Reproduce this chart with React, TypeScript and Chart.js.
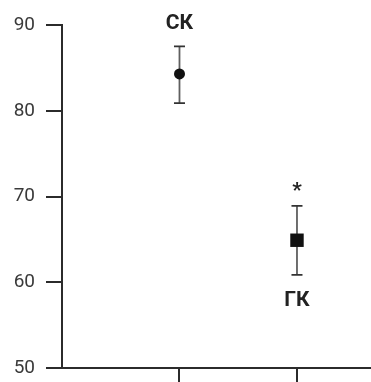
import React, { useEffect, useRef } from "react";
import { Chart, registerables } from "chart.js";

Chart.register(...registerables);

const groups = ["СК", "ГК"];
const xPositions = [1, 2];
const means = [84.3, 64.9];
const errLow = [80.9, 60.85];
const errHigh = [87.5, 68.9];
const topLabels = ["СК", "*"];
const bottomLabels = ["", "ГК"];
const yTicks = [50, 60, 70, 80, 90];

const errorBarPlugin = {
  id: "errorBars",
  beforeDatasetsDraw(chart: any) {
    const { ctx, scales } = chart;
    const xs = scales.x, ys = scales.y;
    ctx.save();
    for (let i = 0; i < means.length; i++) {
      const x = xs.getPixelForValue(xPositions[i]);
      const yl = ys.getPixelForValue(errLow[i]);
      const yh = ys.getPixelForValue(errHigh[i]);
      ctx.strokeStyle = "#5f5f5f";
      ctx.lineWidth = 1.8;
      ctx.beginPath();
      ctx.moveTo(x, yl);
      ctx.lineTo(x, yh);
      ctx.stroke();
      ctx.strokeStyle = "#333";
      ctx.lineWidth = 1.8;
      ctx.beginPath();
      ctx.moveTo(x - 5.5, yl);
      ctx.lineTo(x + 5.5, yl);
      ctx.moveTo(x - 5.5, yh);
      ctx.lineTo(x + 5.5, yh);
      ctx.stroke();
    }
    ctx.restore();
  },
  afterDatasetsDraw(chart: any) {
    const { ctx, scales } = chart;
    const xs = scales.x, ys = scales.y;
    ctx.save();
    ctx.fillStyle = "#222";
    ctx.textAlign = "center";
    ctx.textBaseline = "middle";
    ctx.font = "bold 21px Roboto";
    for (let i = 0; i < means.length; i++) {
      const x = xs.getPixelForValue(xPositions[i]);
      const yl = ys.getPixelForValue(errLow[i]);
      const yh = ys.getPixelForValue(errHigh[i]);
      if (topLabels[i]) {
        if (topLabels[i] === "*") {
          ctx.fillText(topLabels[i], x, yh - 14);
        } else {
          ctx.fillText(topLabels[i], x, yh - 23);
        }
      }
      if (bottomLabels[i]) {
        ctx.fillText(bottomLabels[i], x, yl + 26);
      }
    }
    ctx.restore();
  },
};

export default function App() {
  const ref = useRef<HTMLCanvasElement>(null);
  useEffect(() => {
    document.body.style.margin = "0";
    const chart = new Chart(ref.current!, {
      type: "scatter",
      data: {
        datasets: [
          {
            label: groups[0],
            data: [{ x: xPositions[0], y: means[0] }],
            pointStyle: "circle",
            pointRadius: 5.5,
            backgroundColor: "#111",
            borderColor: "#111",
            borderWidth: 0,
          },
          {
            label: groups[1],
            data: [{ x: xPositions[1], y: means[1] }],
            pointStyle: "rect",
            pointRadius: 9.5,
            backgroundColor: "#111",
            borderColor: "#111",
            borderWidth: 0,
          },
        ],
      },
      options: {
        animation: false,
        responsive: false,
        events: [],
        layout: { autoPadding: false, padding: { top: 25, right: 0, left: 0, bottom: 0 } },
        plugins: { legend: { display: false }, tooltip: { enabled: false } },
        scales: {
          x: {
            type: "linear",
            min: 0,
            max: 2.63,
            afterBuildTicks: (s: any) => {
              s.ticks = xPositions.map((v) => ({ value: v }));
            },
            afterFit: (s: any) => {
              s.height = 14;
              s.paddingLeft = 0;
              s.paddingRight = 0;
            },
            ticks: { callback: () => "", font: { size: 1 }, padding: 0 },
            grid: {
              drawOnChartArea: false,
              drawTicks: true,
              tickLength: 16,
              color: "#2b2b2b",
              lineWidth: 2,
            },
            border: { display: true, color: "#2b2b2b", width: 2 },
          },
          y: {
            type: "linear",
            min: 50,
            max: 90,
            afterBuildTicks: (s: any) => {
              s.ticks = yTicks.map((v) => ({ value: v }));
            },
            afterFit: (s: any) => {
              s.width = 62;
              s.paddingTop = 0;
              s.paddingBottom = 0;
            },
            ticks: {
              color: "#3a3a3a",
              padding: 11,
              font: { size: 19, family: "Roboto" },
            },
            grid: {
              drawOnChartArea: false,
              drawTicks: true,
              tickLength: 16,
              color: "#2b2b2b",
              lineWidth: 2,
            },
            border: { display: true, color: "#2b2b2b", width: 2 },
          },
        },
      },
      plugins: [errorBarPlugin],
    });
    return () => chart.destroy();
  }, []);
  return (
    <div style={{ width: 371, height: 382 }}>
      <canvas ref={ref} width={371} height={382} style={{ display: "block" }} />
    </div>
  );
}
